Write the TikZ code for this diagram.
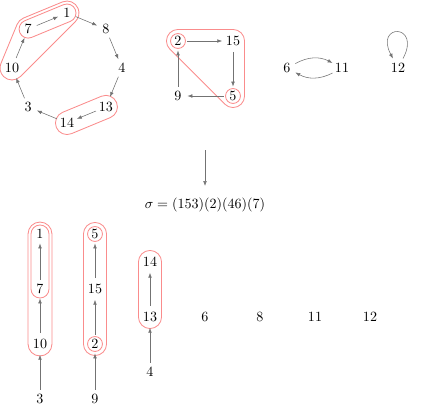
\documentclass[tikz,border=0pt]{standalone}
\usetikzlibrary{arrows.meta,calc}
\definecolor{hullc}{RGB}{250,140,140}
\tikzset{
  nd/.style={circle, inner sep=1pt, minimum size=13pt},
  arr/.style={draw=black!55, line width=0.4pt, -{Latex[length=3.5pt,width=2.6pt]}},
  ring/.style={draw=hullc, line width=0.6pt}
}
% capsule: #1 radius, #2 A, #3 B, #4 normal angle (dir A->B + 90), #5 = #4-180, #6 = #4-360
\newcommand{\capsule}[6]{%
  \draw[ring] ($(#2)+(#4:#1)$) -- ($(#3)+(#4:#1)$)
    arc[start angle=#4, end angle=#5, radius=#1]
    -- ($(#2)+(#5:#1)$)
    arc[start angle=#5, end angle=#6, radius=#1] -- cycle;}
\begin{document}
\begin{tikzpicture}[x=0.71pt, y=-0.71pt]
\useasboundingbox (0,0) rectangle (423,408);
% --- top-left cycle
\coordinate (c1) at (67,13);
\coordinate (c8) at (105.9,29.1);
\coordinate (c4) at (122,68);
\coordinate (c13) at (105.9,106.9);
\coordinate (c14) at (67,123);
\coordinate (c3) at (28.1,106.9);
\coordinate (c10) at (12,68);
\coordinate (c7) at (28.1,29.1);
% square
\coordinate (c2) at (178,41);
\coordinate (c15) at (233,41);
\coordinate (c9) at (178,96);
\coordinate (c5) at (233,96);
% bottom columns
\coordinate (d1) at (40,234);
\coordinate (d7) at (40,289);
\coordinate (d10) at (40,344);
\coordinate (d3) at (40,399);
\coordinate (d5) at (95,234);
\coordinate (d15) at (95,289);
\coordinate (d2) at (95,344);
\coordinate (d9) at (95,399);
\coordinate (d14) at (150,262);
\coordinate (d13) at (150,317);
\coordinate (d4) at (150,372);

% hulls (top)
\draw[ring] ($(c10)+(157.5:8.5pt)$) -- ($(c7)+(157.5:8.5pt)$)
  arc[start angle=157.5, end angle=112.5, radius=8.5pt]
  -- ($(c1)+(112.5:8.5pt)$)
  arc[start angle=112.5, end angle=-45, radius=8.5pt]
  -- ($(c10)+(-45:8.5pt)$)
  arc[start angle=-45, end angle=-202.5, radius=8.5pt] -- cycle;
\capsule{6.4pt}{c7}{c1}{112.5}{-67.5}{-247.5}
\capsule{8.2pt}{c14}{c13}{112.5}{-67.5}{-247.5}
\draw[ring] ($(c2)+(90:8.2pt)$) -- ($(c15)+(90:8.2pt)$)
  arc[start angle=90, end angle=0, radius=8.2pt]
  -- ($(c5)+(0:8.2pt)$)
  arc[start angle=0, end angle=-135, radius=8.2pt]
  -- ($(c2)+(-135:8.2pt)$)
  arc[start angle=-135, end angle=-270, radius=8.2pt] -- cycle;
\draw[ring] (c2) circle[radius=5.3pt];
\draw[ring] (c5) circle[radius=5.3pt];
% hulls (bottom)
\capsule{8.5pt}{d10}{d1}{180}{0}{-180}
\capsule{6.4pt}{d7}{d1}{180}{0}{-180}
\capsule{8.2pt}{d2}{d5}{180}{0}{-180}
\draw[ring] (d5) circle[radius=5.3pt];
\draw[ring] (d2) circle[radius=5.3pt];
\capsule{8.2pt}{d13}{d14}{180}{0}{-180}

% nodes top
\node[nd] (a1) at (c1) {1};
\node[nd] (a8) at (c8) {8};
\node[nd] (a4) at (c4) {4};
\node[nd] (a13) at (c13) {13};
\node[nd] (a14) at (c14) {14};
\node[nd] (a3) at (c3) {3};
\node[nd] (a10) at (c10) {10};
\node[nd] (a7) at (c7) {7};
\node[nd] (a2) at (c2) {2};
\node[nd] (a15) at (c15) {15};
\node[nd] (a9) at (c9) {9};
\node[nd] (a5) at (c5) {5};
\node[nd] (a6) at (287,68) {6};
\node[nd] (a11) at (342,68) {11};
\node[nd] (a12) at (398,68) {12};

\draw[arr] (a1) -- (a8);
\draw[arr] (a8) -- (a4);
\draw[arr] (a4) -- (a13);
\draw[arr] (a13) -- (a14);
\draw[arr] (a14) -- (a3);
\draw[arr] (a3) -- (a10);
\draw[arr] (a10) -- (a7);
\draw[arr] (a7) -- (a1);
\draw[arr] (a2) -- (a15);
\draw[arr] (a15) -- (a5);
\draw[arr] (a5) -- (a9);
\draw[arr] (a9) -- (a2);
\draw[arr] (a6) to[bend left=28] (a11);
\draw[arr] (a11) to[bend left=28] (a6);
\draw[arr] (a12) to[out=62,in=118,min distance=10mm,looseness=8] (a12);

% middle
\coordinate (m1) at (205,150);
\coordinate (m2) at (205,186);
\draw[arr] (m1) -- (m2);
\node (sig) at (205,205) {$\sigma = (153)(2)(46)(7)$};

% bottom nodes
\node[nd] (b1) at (d1) {1};
\node[nd] (b7) at (d7) {7};
\node[nd] (b10) at (d10) {10};
\node[nd] (b3) at (d3) {3};
\node[nd] (b5) at (d5) {5};
\node[nd] (b15) at (d15) {15};
\node[nd] (b2) at (d2) {2};
\node[nd] (b9) at (d9) {9};
\node[nd] (b14) at (d14) {14};
\node[nd] (b13) at (d13) {13};
\node[nd] (b4) at (d4) {4};
\node[nd] (b6) at (205,317) {6};
\node[nd] (b8) at (260,317) {8};
\node[nd] (b11) at (315,317) {11};
\node[nd] (b12) at (370,317) {12};

\draw[arr] (b3) -- (b10);
\draw[arr] (b10) -- (b7);
\draw[arr] (b7) -- (b1);
\draw[arr] (b9) -- (b2);
\draw[arr] (b2) -- (b15);
\draw[arr] (b15) -- (b5);
\draw[arr] (b4) -- (b13);
\draw[arr] (b13) -- (b14);
\end{tikzpicture}
\end{document}
